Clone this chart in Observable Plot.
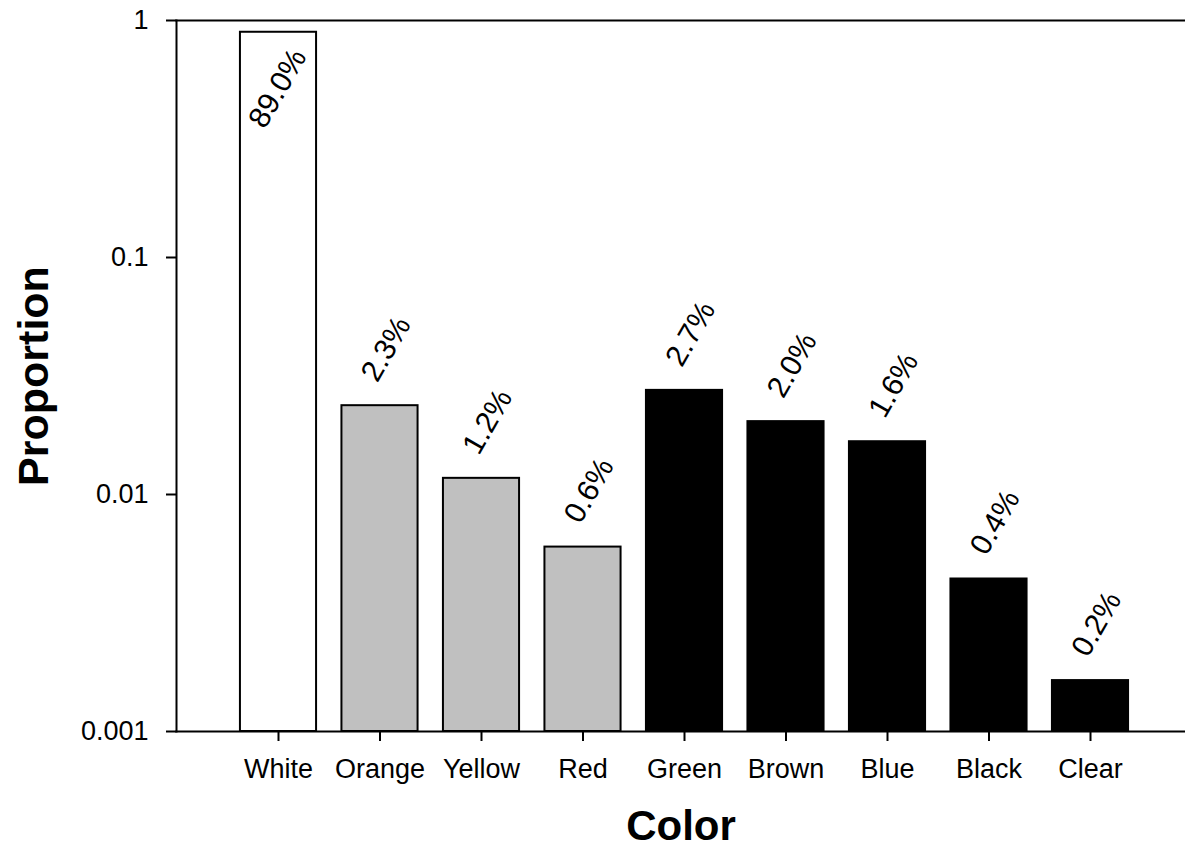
<!DOCTYPE html>
<html>
<head>
<meta charset="utf-8">
<script src="https://cdn.jsdelivr.net/npm/d3@7"></script>
<script src="https://cdn.jsdelivr.net/npm/@observablehq/plot@0.6"></script>
<style>
  html, body { margin: 0; padding: 0; background: white; }
  svg { display: block; }
</style>
</head>
<body>
<div id="chart"></div>
<script>
const categories = ["White", "Orange", "Yellow", "Red", "Green", "Brown", "Blue", "Black", "Clear"];
const proportions = [0.892, 0.0237, 0.0117, 0.0060, 0.0275, 0.0203, 0.0167, 0.0044, 0.00164];
const pctLabels = ["89.0%", "2.3%", "1.2%", "0.6%", "2.7%", "2.0%", "1.6%", "0.4%", "0.2%"];
const barFills = ["white", "#c0c0c0", "#c0c0c0", "#c0c0c0", "black", "black", "black", "black", "black"];
const yTicks = [0.001, 0.01, 0.1, 1];
const yTickLabels = ["0.001", "0.01", "0.1", "1"];
const xTitle = "Color";
const yTitle = "Proportion";

const data = categories.map((c, i) => ({
  color: c, value: proportions[i], label: pctLabels[i], fill: barFills[i]
}));
const baseValue = yTicks[0];

const chart = Plot.plot({
  width: 1185,
  height: 858,
  marginLeft: 176,
  marginRight: 0,
  marginTop: 20,
  marginBottom: 127,
  style: { fontFamily: "'Liberation Sans', Arial, sans-serif", background: "white", color: "black" },
  x: { type: "band", domain: categories, range: [227.25, 1140.75], paddingInner: 0.25, paddingOuter: 0.125, round: false },
  y: { type: "log", domain: [0.001, 1] },
  fill: { type: "identity" },
  marks: [
    Plot.barY(data, { x: "color", y1: baseValue, y2: "value", fill: "fill", stroke: "black", strokeWidth: 2 }),
    Plot.text(data.filter(d => d.color === "White"), {
      x: "color", y: "value", text: "label", rotate: -60, textAnchor: "start",
      dx: -22, dy: 93, fontSize: 30, fill: "black"
    }),
    Plot.text(data.filter(d => d.color !== "White"), {
      x: "color", y: "value", text: "label", rotate: -60, textAnchor: "start",
      dx: -11, dy: -27, fontSize: 30, fill: "black"
    }),
    Plot.frame({ anchor: "top", strokeWidth: 2 }),
    Plot.frame({ anchor: "bottom", strokeWidth: 2 }),
    Plot.frame({ anchor: "left", strokeWidth: 2 }),
    Plot.axisY({
      ticks: yTicks, tickFormat: (d) => yTickLabels[yTicks.indexOf(d)],
      tickSize: 10, tickPadding: 18, fontSize: 27, strokeWidth: 2, label: null
    }),
    Plot.axisX({
      tickSize: 10, tickPadding: 17, fontSize: 27, strokeWidth: 2, label: null
    }),
    Plot.text([yTitle], {
      text: d => d, frameAnchor: "left", rotate: -90, dx: -142,
      fontSize: 43, fontWeight: "bold", textAnchor: "middle", fill: "black"
    }),
    Plot.text([xTitle], {
      text: d => d, frameAnchor: "bottom", dy: 108.6,
      fontSize: 42, fontWeight: "bold", textAnchor: "middle", fill: "black"
    })
  ]
});
document.getElementById("chart").appendChild(chart);
</script>
</body>
</html>
